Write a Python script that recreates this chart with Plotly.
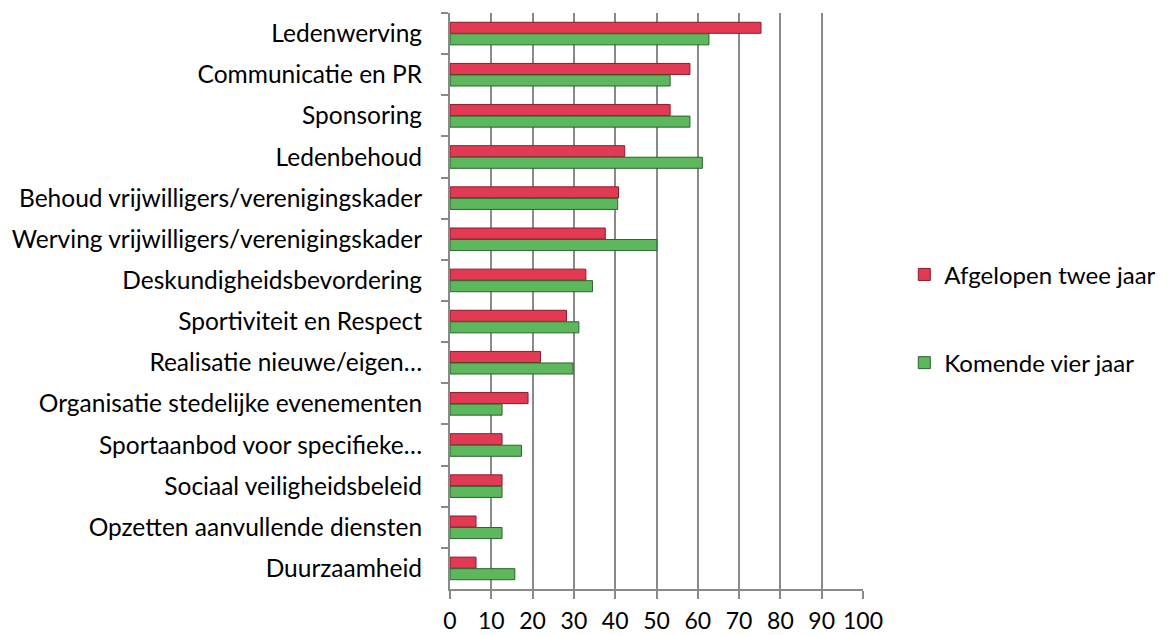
import plotly.graph_objects as go

categories = [
    "Ledenwerving",
    "Communicatie en PR",
    "Sponsoring",
    "Ledenbehoud",
    "Behoud vrijwilligers/verenigingskader",
    "Werving vrijwilligers/verenigingskader",
    "Deskundigheidsbevordering",
    "Sportiviteit en Respect",
    "Realisatie nieuwe/eigen…",
    "Organisatie stedelijke evenementen",
    "Sportaanbod voor specifieke…",
    "Sociaal veiligheidsbeleid",
    "Opzetten aanvullende diensten",
    "Duurzaamheid",
]
afgelopen = [75.3, 58.1, 53.3, 42.3, 40.8, 37.6, 32.9, 28.2, 21.9, 18.9, 12.6, 12.6, 6.3, 6.3]
komende = [62.7, 53.3, 58.1, 61.1, 40.6, 50.1, 34.5, 31.2, 29.8, 12.6, 17.3, 12.6, 12.6, 15.7]
x_ticks = list(range(0, 101, 10))

FONT = "Lato"

fig = go.Figure()
fig.add_trace(go.Bar(
    y=categories, x=afgelopen, orientation="h", name="Afgelopen twee jaar",
    marker=dict(color="#E23A52", line=dict(color="#8E1A2A", width=1)),
    legendgroup="a",
))
fig.add_trace(go.Bar(
    y=categories, x=komende, orientation="h", name="Komende vier jaar",
    marker=dict(color="#5DB85D", line=dict(color="#2C632C", width=1)),
    legendgroup="b",
))

# page body adds an 8px offset, so the figure is sized to fit inside the window
fig.update_layout(
    width=1160, height=627,
    paper_bgcolor="white", plot_bgcolor="white",
    margin=dict(l=442, r=305, t=5, b=46),
    barmode="group", bargap=0.44, bargroupgap=0.04,
    font=dict(family=FONT, size=24.5, color="#000000"),
    legend=dict(
        x=1.1, y=0.469, xanchor="left", yanchor="middle",
        traceorder="grouped", tracegroupgap=54,
        font=dict(family=FONT, size=24, color="#000000"),
        itemwidth=30,
    ),
    showlegend=True,
)
fig.update_xaxes(
    range=[0, 100], tickvals=x_ticks, ticktext=[str(v) for v in x_ticks],
    showgrid=True, gridcolor="#8A8A8A", gridwidth=2,
    showline=True, linecolor="#8A8A8A", linewidth=2,
    ticks="outside", ticklen=8, tickcolor="#8A8A8A", tickwidth=2,
    zeroline=False, tickfont=dict(size=23), automargin=False,
    ticklabelstandoff=2,
)
fig.update_yaxes(
    autorange="reversed", type="category",
    showline=True, linecolor="#8A8A8A", linewidth=2,
    ticks="outside", ticklen=7, tickcolor="#8A8A8A", tickwidth=2,
    tickson="boundaries", showgrid=False, ticklabelstandoff=21,
    automargin=False,
)

fig.write_html("out.html")
